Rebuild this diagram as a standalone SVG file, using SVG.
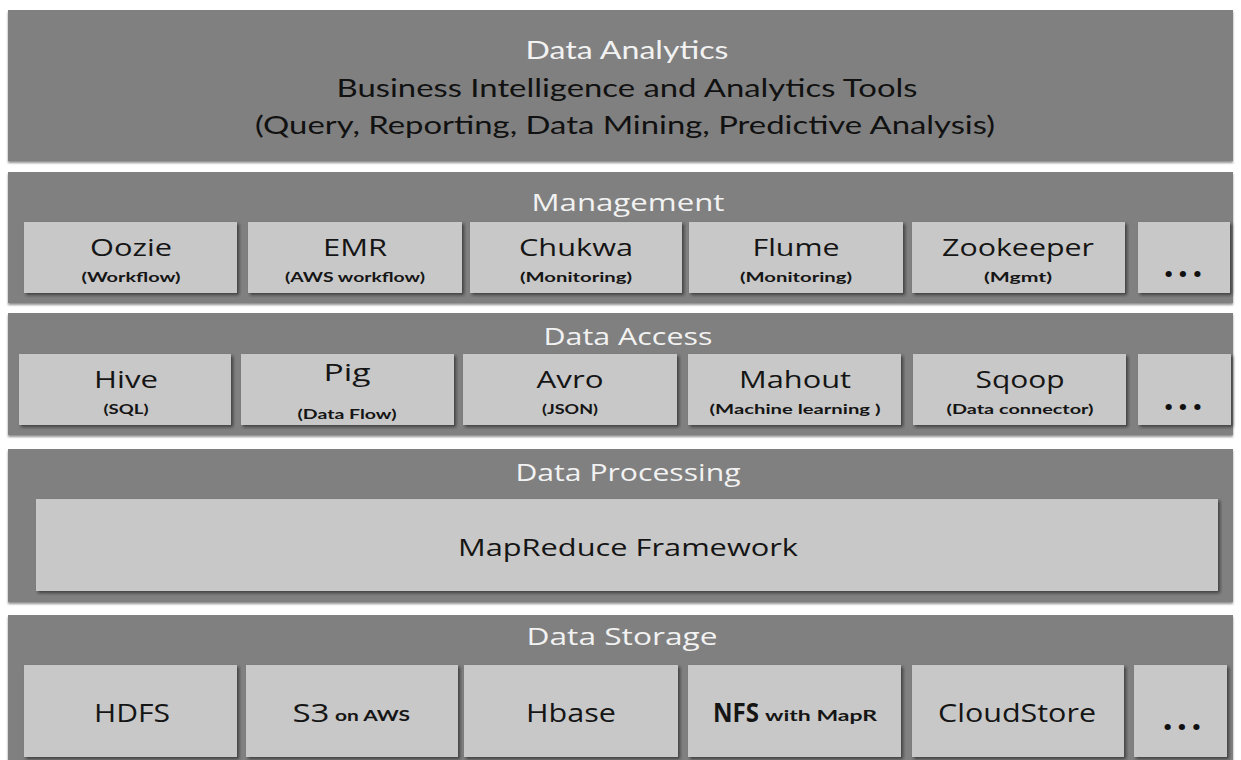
<svg xmlns="http://www.w3.org/2000/svg" width="1241" height="760" viewBox="0 0 1241 760">
<defs>
<filter id="sh" x="-5%" y="-10%" width="115%" height="130%">
<feDropShadow dx="2" dy="2" stdDeviation="1.5" flood-color="#222" flood-opacity="0.7"/>
</filter>
<filter id="bsh" x="-2%" y="-5%" width="104%" height="115%">
<feDropShadow dx="0" dy="2" stdDeviation="1.2" flood-color="#444" flood-opacity="0.6"/>
</filter>
</defs>
<style>
.band{fill:#808080;filter:url(#bsh)}
.box{fill:#c8c8c8;filter:url(#sh)}
.lbl{font-family:"Open Sans","DejaVu Sans",sans-serif;font-size:23px;fill:#f2f2f2;text-anchor:middle}
.top{font-family:Lato,"Liberation Sans",sans-serif;font-size:25px;text-anchor:middle;fill:#111}
.t{font-family:"Open Sans","DejaVu Sans",sans-serif;font-size:24px;fill:#151515;text-anchor:middle}
.st{font-family:"Open Sans","DejaVu Sans",sans-serif;font-size:26px;fill:#151515;text-anchor:middle}
.s{font-family:Lato,"Liberation Sans",sans-serif;font-size:13px;font-weight:bold;fill:#151515;text-anchor:middle}
.sm{font-family:Lato,"Liberation Sans",sans-serif;font-size:16px;font-weight:bold;fill:#151515}
.d{font-family:"Open Sans","DejaVu Sans",sans-serif;font-size:36px;font-weight:bold;fill:#111;text-anchor:middle;letter-spacing:4px}
</style>
<rect width="1241" height="760" fill="#ffffff"/>

<g id="analytics">
<rect class="band" x="8" y="10" width="1225" height="151"/>
<text class="top" x="627" y="59" style="fill:#f2f2f2" textLength="203" lengthAdjust="spacingAndGlyphs">Data Analytics</text>
<text class="top" x="627" y="97" textLength="581" lengthAdjust="spacingAndGlyphs">Business Intelligence and Analytics Tools</text>
<text class="top" x="625" y="134" textLength="740" lengthAdjust="spacingAndGlyphs">(Query, Reporting, Data Mining, Predictive Analysis)</text>
</g>

<g id="management">
<rect class="band" x="8" y="172" width="1225" height="131"/>
<text class="lbl" x="628" y="211" textLength="193" lengthAdjust="spacingAndGlyphs">Management</text>
</g>
<g id="oozie"><rect class="box" x="24" y="222" width="213" height="71"/>
<text class="t" x="131" y="256" textLength="82" lengthAdjust="spacingAndGlyphs">Oozie</text>
<text class="s" x="131" y="282" textLength="99" lengthAdjust="spacingAndGlyphs">(Workflow)</text></g>
<g id="emr"><rect class="box" x="248" y="222" width="214" height="71"/>
<text class="t" x="355" y="256" textLength="64" lengthAdjust="spacingAndGlyphs">EMR</text>
<text class="s" x="355" y="282" textLength="140" lengthAdjust="spacingAndGlyphs">(AWS workflow)</text></g>
<g id="chukwa"><rect class="box" x="470" y="222" width="212" height="71"/>
<text class="t" x="576" y="256" textLength="114" lengthAdjust="spacingAndGlyphs">Chukwa</text>
<text class="s" x="576" y="282" textLength="112" lengthAdjust="spacingAndGlyphs">(Monitoring)</text></g>
<g id="flume"><rect class="box" x="689" y="222" width="214" height="71"/>
<text class="t" x="796" y="256" textLength="87" lengthAdjust="spacingAndGlyphs">Flume</text>
<text class="s" x="796" y="282" textLength="112" lengthAdjust="spacingAndGlyphs">(Monitoring)</text></g>
<g id="zookeeper"><rect class="box" x="912" y="222" width="213" height="71"/>
<text class="t" x="1018" y="256" textLength="152" lengthAdjust="spacingAndGlyphs">Zookeeper</text>
<text class="s" x="1018" y="282" textLength="68" lengthAdjust="spacingAndGlyphs">(Mgmt)</text></g>
<g id="mgmt-more"><rect class="box" x="1138" y="222" width="92" height="71"/>
<text class="d" x="1185" y="277">...</text></g>

<g id="data-access">
<rect class="band" x="8" y="313" width="1225" height="122"/>
<text class="lbl" x="628" y="345" textLength="169" lengthAdjust="spacingAndGlyphs">Data Access</text>
</g>
<g id="hive"><rect class="box" x="19" y="354" width="212" height="71"/>
<text class="t" x="126" y="388" textLength="64" lengthAdjust="spacingAndGlyphs">Hive</text>
<text class="s" x="126" y="414" textLength="45" lengthAdjust="spacingAndGlyphs">(SQL)</text></g>
<g id="pig"><rect class="box" x="241" y="354" width="213" height="71"/>
<text class="t" x="347" y="381" textLength="47" lengthAdjust="spacingAndGlyphs">Pig</text>
<text class="s" x="347" y="419" textLength="99" lengthAdjust="spacingAndGlyphs">(Data Flow)</text></g>
<g id="avro"><rect class="box" x="463" y="354" width="214" height="71"/>
<text class="t" x="570" y="388" textLength="67" lengthAdjust="spacingAndGlyphs">Avro</text>
<text class="s" x="570" y="414" textLength="56" lengthAdjust="spacingAndGlyphs">(JSON)</text></g>
<g id="mahout"><rect class="box" x="688" y="354" width="213" height="71"/>
<text class="t" x="795" y="388" textLength="112" lengthAdjust="spacingAndGlyphs">Mahout</text>
<text class="s" x="795" y="414" textLength="171" lengthAdjust="spacingAndGlyphs">(Machine learning )</text></g>
<g id="sqoop"><rect class="box" x="913" y="354" width="213" height="71"/>
<text class="t" x="1020" y="388" textLength="89" lengthAdjust="spacingAndGlyphs">Sqoop</text>
<text class="s" x="1020" y="414" textLength="147" lengthAdjust="spacingAndGlyphs">(Data connector)</text></g>
<g id="access-more"><rect class="box" x="1138" y="354" width="93" height="71"/>
<text class="d" x="1185" y="410">...</text></g>

<g id="data-processing">
<rect class="band" x="8" y="449" width="1225" height="153"/>
<text class="lbl" x="628" y="481" textLength="225" lengthAdjust="spacingAndGlyphs">Data Processing</text>
</g>
<g id="mapreduce"><rect class="box" x="36" y="499" width="1182" height="92"/>
<text class="t" x="628" y="556" textLength="340" lengthAdjust="spacingAndGlyphs">MapReduce Framework</text></g>

<g id="data-storage">
<rect class="band" x="8" y="615" width="1225" height="150"/>
<text class="lbl" x="622" y="645" textLength="191" lengthAdjust="spacingAndGlyphs">Data Storage</text>
</g>
<g id="hdfs"><rect class="box" x="24" y="665" width="213" height="92"/>
<text class="st" x="132" y="722" textLength="76" lengthAdjust="spacingAndGlyphs">HDFS</text></g>
<g id="s3"><rect class="box" x="246" y="665" width="212" height="92"/>
<text class="st" x="311" y="722" textLength="37" lengthAdjust="spacingAndGlyphs">S3</text>
<text class="sm" x="335" y="721" textLength="75" lengthAdjust="spacingAndGlyphs">on AWS</text></g>
<g id="hbase"><rect class="box" x="464" y="665" width="214" height="92"/>
<text class="st" x="571" y="722" textLength="90" lengthAdjust="spacingAndGlyphs">Hbase</text></g>
<g id="nfs"><rect class="box" x="688" y="665" width="213" height="92"/>
<text class="st" x="736" y="722" style="font-weight:bold" textLength="46" lengthAdjust="spacingAndGlyphs">NFS</text>
<text class="sm" x="765" y="721" textLength="112" lengthAdjust="spacingAndGlyphs">with MapR</text></g>
<g id="cloudstore"><rect class="box" x="912" y="665" width="212" height="92"/>
<text class="st" x="1017" y="722" textLength="158" lengthAdjust="spacingAndGlyphs">CloudStore</text></g>
<g id="storage-more"><rect class="box" x="1134" y="665" width="93" height="92"/>
<text class="d" x="1184" y="730">...</text></g>

<g id="connectors"></g>
</svg>
